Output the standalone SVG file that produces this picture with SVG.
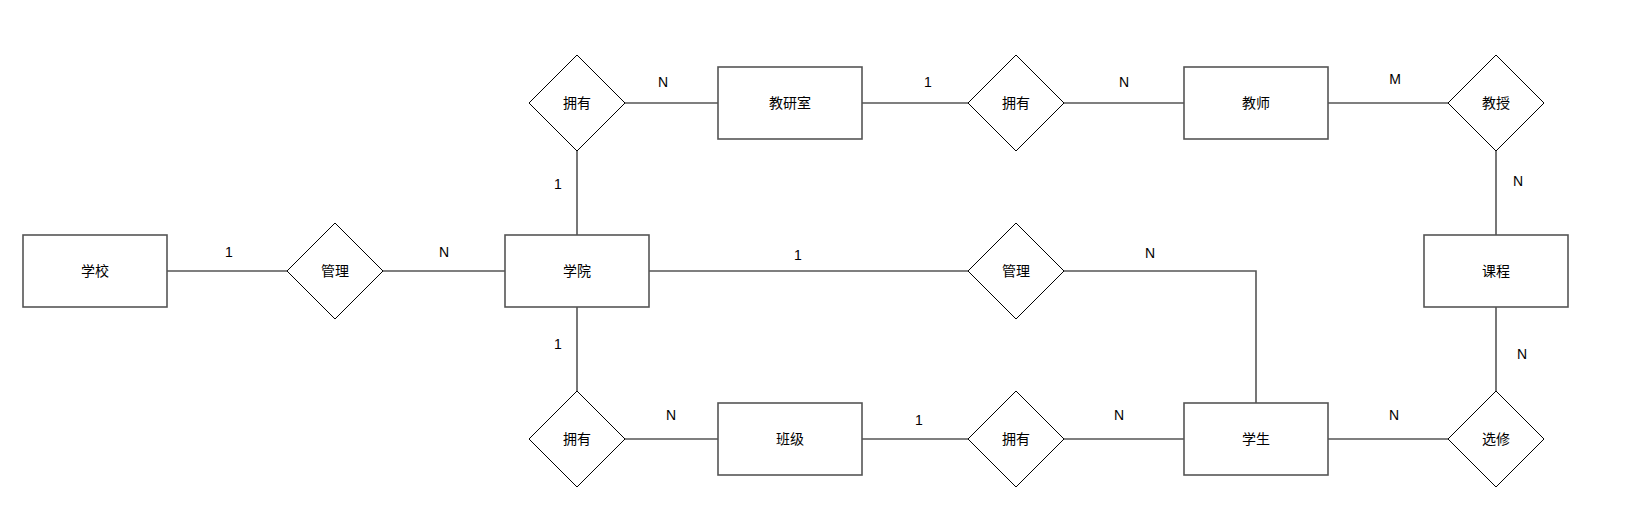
<svg xmlns="http://www.w3.org/2000/svg" width="1632" height="522" viewBox="0 0 1632 522">
<style>
.ent{fill:#fff;stroke:#555;stroke-width:1.6}
.rel{fill:#fff;stroke:#000;stroke-width:1}
.con{fill:none;stroke:#555;stroke-width:1.6}
text{font-family:"Liberation Sans","Noto Sans CJK SC",sans-serif;font-size:14px;fill:#000;text-anchor:middle;dominant-baseline:central}
</style>
<rect width="1632" height="522" fill="#fff"/>
<g id="connectors">
<path class="con" d="M167,271H287"/>
<path class="con" d="M383,271H505"/>
<path class="con" d="M577,235V151"/>
<path class="con" d="M625,103H718"/>
<path class="con" d="M862,103H968"/>
<path class="con" d="M1064,103H1184"/>
<path class="con" d="M1328,103H1448"/>
<path class="con" d="M1496,151V235"/>
<path class="con" d="M1496,307V391"/>
<path class="con" d="M1448,439H1328"/>
<path class="con" d="M1184,439H1064"/>
<path class="con" d="M968,439H862"/>
<path class="con" d="M718,439H625"/>
<path class="con" d="M577,391V307"/>
<path class="con" d="M649,271H968"/>
<path class="con" d="M1064,271H1256V403"/>
</g>
<g id="labels">
<text x="229" y="252">1</text>
<text x="444" y="252">N</text>
<text x="558" y="184">1</text>
<text x="663" y="82">N</text>
<text x="928" y="82">1</text>
<text x="1124" y="82">N</text>
<text x="1395" y="79">M</text>
<text x="1518" y="181">N</text>
<text x="798" y="255">1</text>
<text x="1150" y="253">N</text>
<text x="558" y="344">1</text>
<text x="671" y="415">N</text>
<text x="919" y="420">1</text>
<text x="1119" y="415">N</text>
<text x="1394" y="415">N</text>
<text x="1522" y="354">N</text>
</g>
<g id="school"><rect class="ent" x="23" y="235" width="144" height="72"/><text x="95" y="271">学校</text></g>
<g id="college"><rect class="ent" x="505" y="235" width="144" height="72"/><text x="577" y="271">学院</text></g>
<g id="office"><rect class="ent" x="718" y="67" width="144" height="72"/><text x="790" y="103">教研室</text></g>
<g id="teacher"><rect class="ent" x="1184" y="67" width="144" height="72"/><text x="1256" y="103">教师</text></g>
<g id="course"><rect class="ent" x="1424" y="235" width="144" height="72"/><text x="1496" y="271">课程</text></g>
<g id="class"><rect class="ent" x="718" y="403" width="144" height="72"/><text x="790" y="439">班级</text></g>
<g id="student"><rect class="ent" x="1184" y="403" width="144" height="72"/><text x="1256" y="439">学生</text></g>
<g id="rel-manage1"><path class="rel" d="M335,223L383,271L335,319L287,271Z"/><text x="335" y="271">管理</text></g>
<g id="rel-have1"><path class="rel" d="M577,55L625,103L577,151L529,103Z"/><text x="577" y="103">拥有</text></g>
<g id="rel-have2"><path class="rel" d="M1016,55L1064,103L1016,151L968,103Z"/><text x="1016" y="103">拥有</text></g>
<g id="rel-teach"><path class="rel" d="M1496,55L1544,103L1496,151L1448,103Z"/><text x="1496" y="103">教授</text></g>
<g id="rel-manage2"><path class="rel" d="M1016,223L1064,271L1016,319L968,271Z"/><text x="1016" y="271">管理</text></g>
<g id="rel-have3"><path class="rel" d="M577,391L625,439L577,487L529,439Z"/><text x="577" y="439">拥有</text></g>
<g id="rel-have4"><path class="rel" d="M1016,391L1064,439L1016,487L968,439Z"/><text x="1016" y="439">拥有</text></g>
<g id="rel-elect"><path class="rel" d="M1496,391L1544,439L1496,487L1448,439Z"/><text x="1496" y="439">选修</text></g>
</svg>
